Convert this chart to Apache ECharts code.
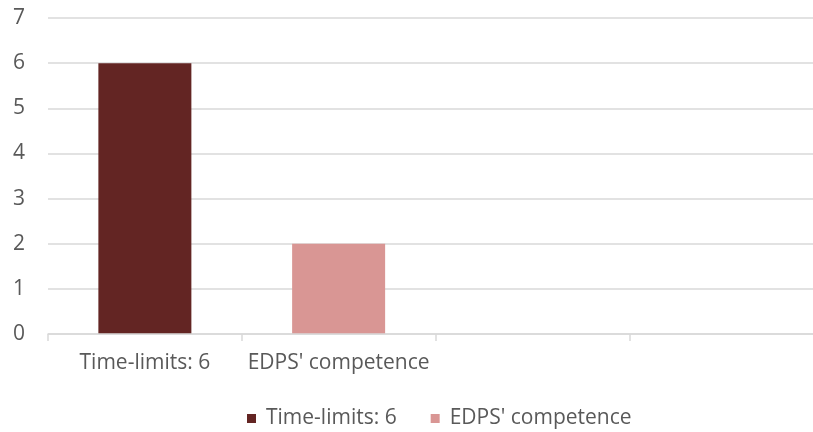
<!DOCTYPE html>
<html>
<head>
<meta charset="utf-8">
<script src="https://cdn.jsdelivr.net/npm/echarts@6/dist/echarts.min.js"></script>
<style>
  html, body { margin: 0; padding: 0; background: #ffffff; }
  #chart { width: 813px; height: 432px; }
</style>
</head>
<body>
<div id="chart"></div>
<script>
// Category slots on the horizontal axis (two empty trailing slots)
const categories = ["Time-limits: 6", "EDPS' competence", "", ""];
// One series per legend entry; each occupies its own category slot
const seriesNames = ["Time-limits: 6", "EDPS' competence"];
const timeLimitsValues = [6, null, null, null];
const competenceValues = [null, 2, null, null];
const seriesColors = ["#632523", "#D99694"];

const textColor = "#595959";
const lineColor = "#D9D9D9";
const fontFamily = "'Open Sans', sans-serif";
const fontSize = 21;

const chart = echarts.init(document.getElementById("chart"), null, { renderer: "canvas" });

chart.setOption({
  animation: false,
  backgroundColor: "#ffffff",
  textStyle: { fontFamily: fontFamily },
  // plot area runs slightly past the right edge of the canvas
  grid: { left: 48, top: 18, width: 775, height: 316, containLabel: false, outerBoundsMode: "none" },
  legend: {
    data: seriesNames,
    top: 403,
    left: 242,
    itemWidth: 9,
    itemHeight: 9,
    itemGap: 34,
    icon: "rect",
    textStyle: { color: textColor, fontSize: fontSize, fontFamily: fontFamily, padding: [0, 0, 0, 5] }
  },
  xAxis: {
    type: "category",
    data: categories,
    z: 5,
    axisLine: { show: true, lineStyle: { color: lineColor, width: 1.5 } },
    axisTick: { show: true, interval: 0, length: 7, lineStyle: { color: lineColor, width: 1.5 } },
    axisLabel: { color: textColor, fontSize: fontSize, interval: 0, margin: 19, fontFamily: fontFamily }
  },
  yAxis: {
    type: "value",
    min: 0,
    max: 7,
    interval: 1,
    axisLine: { show: false },
    axisTick: { show: false },
    axisLabel: { color: textColor, fontSize: fontSize, margin: 23, fontFamily: fontFamily },
    splitLine: { show: true, lineStyle: { color: lineColor, width: 1.5 } }
  },
  series: [
    {
      name: seriesNames[0],
      type: "bar",
      stack: "total",
      data: timeLimitsValues,
      barWidth: 93,
      itemStyle: { color: seriesColors[0] }
    },
    {
      name: seriesNames[1],
      type: "bar",
      stack: "total",
      data: competenceValues,
      barWidth: 93,
      itemStyle: { color: seriesColors[1] }
    }
  ]
});
</script>
</body>
</html>
